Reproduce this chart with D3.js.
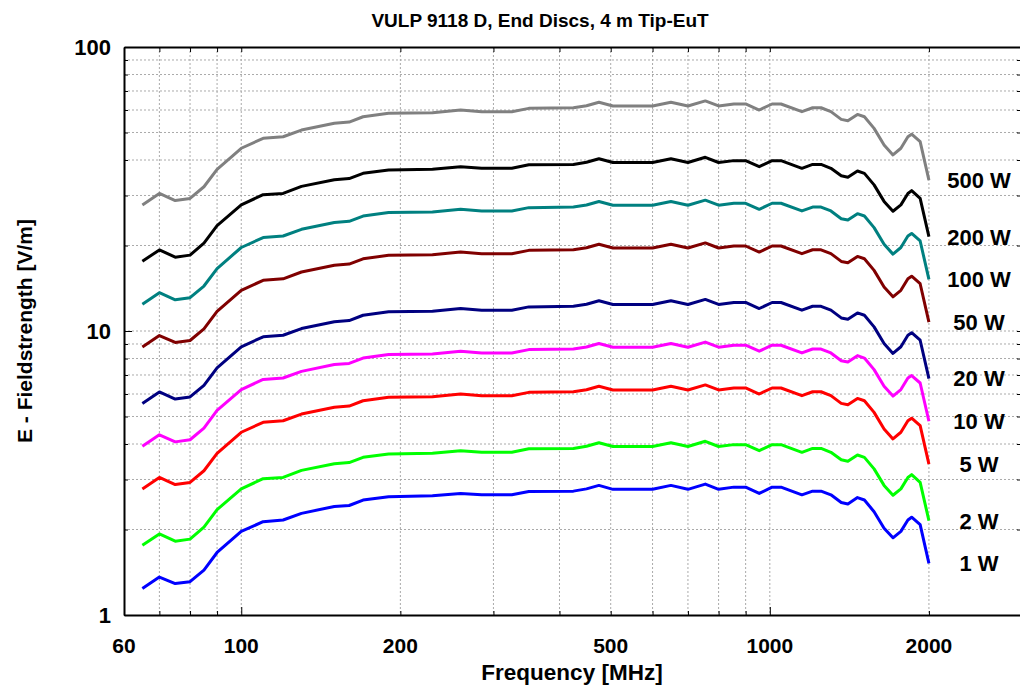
<!doctype html>
<html>
<head>
  <meta charset='utf-8'>
  <style>
    body { margin: 0; background: #fff; }
    text { font-family: 'Liberation Sans', Arial, sans-serif; font-weight: bold; fill: #000; }
    .grid line { stroke: #aaaaaa; stroke-width: 1; stroke-dasharray: 2,2; }
    .series { fill: none; stroke-width: 3; stroke-linejoin: round; }
  </style>
</head>
<body>
  <svg width='1020' height='686'></svg>
  <script src='https://cdn.jsdelivr.net/npm/d3@7'></script>
  <script>
    // frequency points [MHz]
    var freqs = [65, 70, 75, 80, 85, 90, 100, 110, 120, 130, 150, 160, 170, 190, 230,
                 260, 285, 325, 350, 425, 450, 475, 505, 600, 650, 700, 755, 800, 855, 900,
                 955, 1010, 1050, 1150, 1205, 1250, 1305, 1365, 1405, 1465, 1510, 1575, 1645,
                 1710, 1770, 1825, 1855, 1925, 2000];

    // field strength [V/m] per forward power
    var w500 = [27.8, 30.5, 28.8, 29.3, 32.2, 37.1, 44.0, 47.7, 48.3, 51.0, 53.9, 54.4, 56.8, 58.4, 58.7,
                60.0, 59.2, 59.2, 60.8, 61.1, 62.1, 63.9, 62.0, 62.0, 63.9, 62.0, 64.6, 62.0, 63.0, 63.0,
                60.0, 63.0, 63.0, 59.2, 61.1, 61.1, 59.2, 55.6, 55.0, 57.9, 56.8, 51.7, 45.2,
                41.7, 44.0, 48.3, 49.3, 46.4, 34.0];
    var w200 = [17.6, 19.3, 18.2, 18.5, 20.4, 23.5, 27.8, 30.2, 30.5, 32.3, 34.1, 34.4, 35.9, 36.9, 37.1,
                37.9, 37.4, 37.4, 38.5, 38.6, 39.3, 40.4, 39.2, 39.2, 40.4, 39.2, 40.9, 39.2, 39.8, 39.8,
                37.9, 39.8, 39.8, 37.4, 38.6, 38.6, 37.4, 35.2, 34.8, 36.6, 35.9, 32.7, 28.6,
                26.4, 27.8, 30.5, 31.2, 29.3, 21.5];
    var w100 = [12.43, 13.64, 12.88, 13.10, 14.40, 16.59, 19.68, 21.33, 21.60, 22.81, 24.10, 24.33, 25.40, 26.12, 26.25,
                26.83, 26.47, 26.47, 27.19, 27.32, 27.77, 28.58, 27.73, 27.73, 28.58, 27.73, 28.89, 27.73, 28.17, 28.17,
                26.83, 28.17, 28.17, 26.47, 27.32, 27.32, 26.47, 24.86, 24.60, 25.89, 25.40, 23.12, 20.21,
                18.65, 19.68, 21.60, 22.05, 20.75, 15.20];
    var w50 = [8.79, 9.64, 9.11, 9.26, 10.18, 11.73, 13.91, 15.08, 15.27, 16.13, 17.04, 17.20, 17.96, 18.47, 18.56,
               18.97, 18.72, 18.72, 19.23, 19.32, 19.64, 20.21, 19.60, 19.60, 20.21, 19.60, 20.43, 19.60, 19.92, 19.92,
               18.97, 19.92, 19.92, 18.72, 19.32, 19.32, 18.72, 17.58, 17.39, 18.31, 17.96, 16.35, 14.29,
               13.19, 13.91, 15.27, 15.59, 14.67, 10.75];
    var w20 = [5.56, 6.10, 5.76, 5.86, 6.44, 7.42, 8.80, 9.54, 9.66, 10.20, 10.78, 10.88, 11.36, 11.68, 11.74,
               12.00, 11.84, 11.84, 12.16, 12.22, 12.42, 12.78, 12.40, 12.40, 12.78, 12.40, 12.92, 12.40, 12.60, 12.60,
               12.00, 12.60, 12.60, 11.84, 12.22, 12.22, 11.84, 11.12, 11.00, 11.58, 11.36, 10.34, 9.04,
               8.34, 8.80, 9.66, 9.86, 9.28, 6.80];
    var w10 = [3.93, 4.31, 4.07, 4.14, 4.55, 5.25, 6.22, 6.75, 6.83, 7.21, 7.62, 7.69, 8.03, 8.26, 8.30,
               8.49, 8.37, 8.37, 8.60, 8.64, 8.78, 9.04, 8.77, 8.77, 9.04, 8.77, 9.14, 8.77, 8.91, 8.91,
               8.49, 8.91, 8.91, 8.37, 8.64, 8.64, 8.37, 7.86, 7.78, 8.19, 8.03, 7.31, 6.39,
               5.90, 6.22, 6.83, 6.97, 6.56, 4.81];
    var w5 = [2.78, 3.05, 2.88, 2.93, 3.22, 3.71, 4.40, 4.77, 4.83, 5.10, 5.39, 5.44, 5.68, 5.84, 5.87,
              6.00, 5.92, 5.92, 6.08, 6.11, 6.21, 6.39, 6.20, 6.20, 6.39, 6.20, 6.46, 6.20, 6.30, 6.30,
              6.00, 6.30, 6.30, 5.92, 6.11, 6.11, 5.92, 5.56, 5.50, 5.79, 5.68, 5.17, 4.52,
              4.17, 4.40, 4.83, 4.93, 4.64, 3.40];
    var w2 = [1.76, 1.93, 1.82, 1.85, 2.04, 2.35, 2.78, 3.02, 3.05, 3.23, 3.41, 3.44, 3.59, 3.69, 3.71,
              3.79, 3.74, 3.74, 3.85, 3.86, 3.93, 4.04, 3.92, 3.92, 4.04, 3.92, 4.09, 3.92, 3.98, 3.98,
              3.79, 3.98, 3.98, 3.74, 3.86, 3.86, 3.74, 3.52, 3.48, 3.66, 3.59, 3.27, 2.86,
              2.64, 2.78, 3.05, 3.12, 2.93, 2.15];
    var w1 = [1.24, 1.36, 1.29, 1.31, 1.44, 1.66, 1.97, 2.13, 2.16, 2.28, 2.41, 2.43, 2.54, 2.61, 2.63,
              2.68, 2.65, 2.65, 2.72, 2.73, 2.78, 2.86, 2.77, 2.77, 2.86, 2.77, 2.89, 2.77, 2.82, 2.82,
              2.68, 2.82, 2.82, 2.65, 2.73, 2.73, 2.65, 2.49, 2.46, 2.59, 2.54, 2.31, 2.02,
              1.87, 1.97, 2.16, 2.21, 2.08, 1.52];

    var seriesValues = [w500, w200, w100, w50, w20, w10, w5, w2, w1];
    var seriesLabels = ['500 W', '200 W', '100 W', '50 W', '20 W', '10 W', '5 W', '2 W', '1 W'];
    var seriesColors = ['#808080', '#000000', '#008080', '#800000', '#000080',
                        '#ff00ff', '#ff0000', '#00ff00', '#0000ff'];

    var xTickValues = [60, 100, 200, 500, 1000, 2000];
    var xGridValues = [70, 80, 90, 100, 200, 300, 400, 500, 600, 700, 800, 900, 1000, 2000, 3000];
    var yTickValues = [1, 10, 100];
    var yGridValues = [2, 3, 4, 5, 6, 7, 8, 9, 10, 20, 30, 40, 50, 60, 70, 80, 90];

    var svg = d3.select('svg');
    var plotLeft = 124, plotRight = 1022, plotTop = 47, plotBottom = 615;

    var x = d3.scaleLog().domain([60, 3000]).range([plotLeft, plotRight]);
    var y = d3.scaleLog().domain([1, 100]).range([plotBottom, plotTop]);

    // grid
    var grid = svg.append('g').attr('class', 'grid');
    grid.selectAll('.gx').data(xGridValues).enter().append('line')
        .attr('x1', function(d) { return x(d); })
        .attr('x2', function(d) { return x(d); })
        .attr('y1', plotTop).attr('y2', plotBottom);
    grid.selectAll('.gy').data(yGridValues).enter().append('line')
        .attr('y1', function(d) { return y(d); })
        .attr('y2', function(d) { return y(d); })
        .attr('x1', plotLeft).attr('x2', plotRight);

    // axes (ticks drawn inside the frame)
    var allX = [60, 70, 80, 90, 100, 200, 300, 400, 500, 600, 700, 800, 900, 1000, 2000, 3000];
    var allY = [1, 2, 3, 4, 5, 6, 7, 8, 9, 10, 20, 30, 40, 50, 60, 70, 80, 90, 100];
    function major(d) { return Math.abs(Math.log10(d) - Math.round(Math.log10(d))) < 1e-9; }

    svg.append('g').attr('transform', 'translate(0,' + plotBottom + ')')
       .call(d3.axisTop(x).tickValues(allX).tickFormat('')
               .tickSizeInner(4).tickSizeOuter(0))
       .call(function(g) {
         g.select('.domain').attr('stroke-width', 2);
         g.selectAll('.tick line').attr('y2', function(d) { return major(d) ? -8 : -4; });
       });
    svg.append('g').attr('transform', 'translate(0,' + plotTop + ')')
       .call(d3.axisBottom(x).tickValues(allX).tickFormat('')
               .tickSizeInner(5).tickSizeOuter(0))
       .call(function(g) { g.select('.domain').attr('stroke-width', 2); });
    svg.append('g').attr('transform', 'translate(' + plotLeft + ',0)')
       .call(d3.axisRight(y).tickValues(allY).tickFormat('')
               .tickSizeInner(4).tickSizeOuter(0))
       .call(function(g) {
         g.select('.domain').attr('stroke-width', 2);
         g.selectAll('.tick line').attr('x2', function(d) { return major(d) ? 8 : 4; });
       });
    svg.append('g').attr('transform', 'translate(' + plotRight + ',0)')
       .call(d3.axisLeft(y).tickValues(allY).tickFormat('')
               .tickSizeInner(5).tickSizeOuter(0))
       .call(function(g) { g.select('.domain').attr('stroke-width', 2); });

    // tick labels
    svg.append('g').selectAll('text').data(xTickValues).enter().append('text')
       .attr('x', function(d) { return x(d); })
       .attr('y', 653)
       .attr('text-anchor', 'middle')
       .style('font-size', '21px')
       .text(function(d) { return d; });
    svg.append('g').selectAll('text').data(yTickValues).enter().append('text')
       .attr('x', 111)
       .attr('y', function(d) { return y(d); })
       .attr('dy', '0.36em')
       .attr('text-anchor', 'end')
       .style('font-size', '22px')
       .text(function(d) { return d; });

    // curves
    var line = d3.line()
                 .x(function(d, i) { return x(freqs[i]); })
                 .y(function(d) { return y(d); });

    svg.append('g').selectAll('path').data(seriesValues).enter().append('path')
       .attr('class', 'series')
       .attr('stroke', function(d, i) { return seriesColors[i]; })
       .attr('d', line);

    // power labels next to the curve ends
    svg.append('g').selectAll('text').data(seriesValues).enter().append('text')
       .attr('x', 979)
       .attr('y', function(d) { return y(d[d.length - 1]); })
       .attr('dy', '0.36em')
       .attr('text-anchor', 'middle')
       .style('font-size', '22px')
       .text(function(d, i) { return seriesLabels[i]; });

    // titles
    svg.append('text').attr('x', 540).attr('y', 27)
       .attr('text-anchor', 'middle').style('font-size', '19px')
       .text('VULP 9118 D, End Discs, 4 m Tip-EuT');
    svg.append('text').attr('x', 572).attr('y', 680)
       .attr('text-anchor', 'middle').style('font-size', '22.5px')
       .text('Frequency [MHz]');
    svg.append('text')
       .attr('transform', 'translate(32,331) rotate(-90)')
       .attr('text-anchor', 'middle').style('font-size', '21px')
       .text('E - Fieldstrength [V/m]');
  </script>
</body>
</html>
